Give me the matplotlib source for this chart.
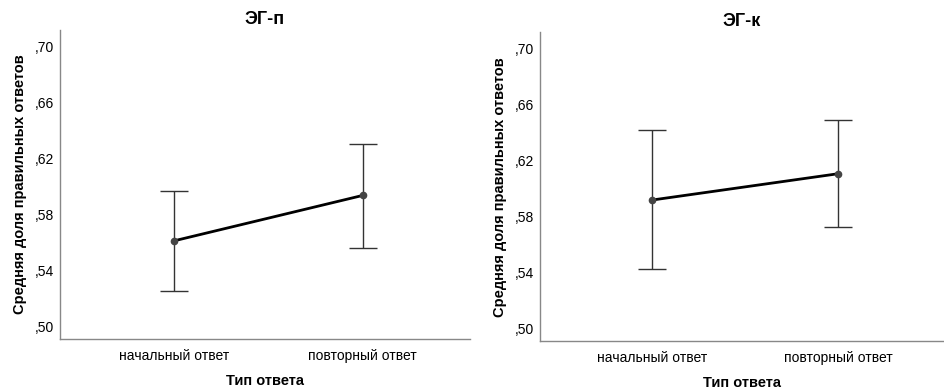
import matplotlib.pyplot as plt

plt.rcParams['font.family'] = ['Liberation Sans', 'DejaVu Sans']

categories = ["начальный ответ", "повторный ответ"]

titles = ["ЭГ-п", "ЭГ-к"]
means = [[0.561, 0.5935], [0.5918, 0.6106]]
upper = [[0.597, 0.6305], [0.6416, 0.6488]]
lower = [[0.525, 0.5562], [0.5424, 0.5725]]

yticks = [0.50, 0.54, 0.58, 0.62, 0.66, 0.70]
ytick_labels = [",50", ",54", ",58", ",62", ",66", ",70"]

fig = plt.figure(figsize=(9.44, 3.9), dpi=100)
rects = [[0.0636, 0.1308, 0.4343, 0.7923], [0.572, 0.1249, 0.428, 0.793]]

for i in range(2):
    ax = fig.add_axes(rects[i])
    x = list(range(len(categories)))
    m = means[i]
    err = [[m[j] - lower[i][j] for j in x], [upper[i][j] - m[j] for j in x]]
    ax.errorbar(x, m, yerr=err, fmt="none", ecolor="#333333", elinewidth=1.0,
                capsize=10, capthick=1.0, zorder=2)
    ax.plot(x, m, color="black", linewidth=2, zorder=3)
    ax.plot(x, m, "o", color="#444444", markersize=4.5, zorder=4)

    ax.set_xlim(-0.605, 1.57)
    ax.set_ylim(0.4907, 0.712)
    ax.set_yticks(yticks)
    ax.set_yticklabels(ytick_labels)
    ax.set_xticks(x)
    ax.set_xticklabels(categories)
    ax.tick_params(axis="both", length=0, labelsize=10, pad=4)
    ax.tick_params(axis="x", pad=7)
    for s in ["top", "right"]:
        ax.spines[s].set_visible(False)
    for s in ["left", "bottom"]:
        ax.spines[s].set_color("#888888")
        ax.spines[s].set_linewidth(1)

    ax.set_title(titles[i], fontsize=13, fontweight="bold", pad=4)
    ax.set_xlabel("Тип ответа", fontsize=10.5, fontweight="bold", labelpad=8)
    ax.set_ylabel("Средняя доля правильных ответов", fontsize=10.5, fontweight="bold", labelpad=6)

fig.savefig("out.png", dpi=100)
